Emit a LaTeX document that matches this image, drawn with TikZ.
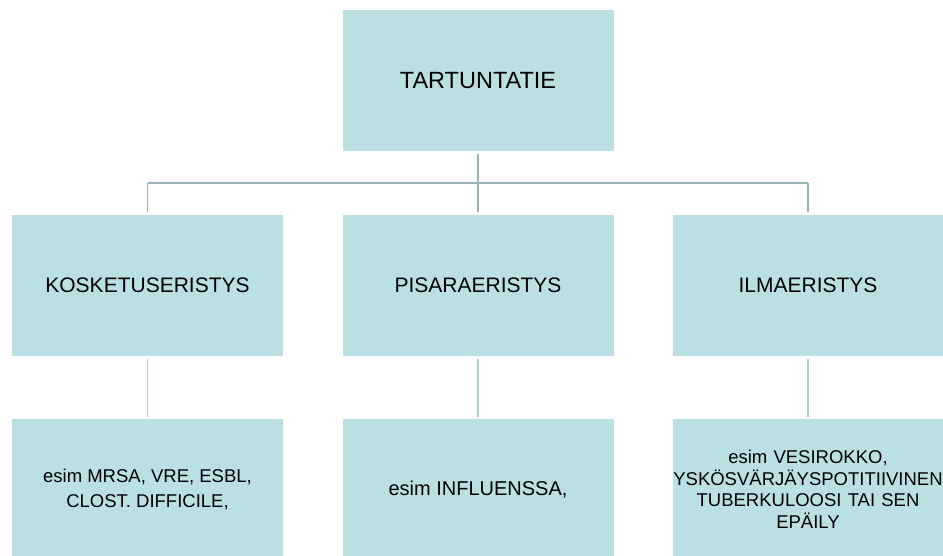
\documentclass[tikz,border=0pt]{standalone}
\usepackage{fontspec}
\setmainfont{Liberation Sans}
\definecolor{boxfill}{HTML}{BBE0E3}
\definecolor{trunkline}{HTML}{96B4B8}
\definecolor{stemline}{HTML}{A8D0D5}
\begin{document}
\begin{tikzpicture}[x=1pt, y=-1pt,
    main/.style = {fill=boxfill, minimum width=271pt, minimum height=141pt, inner sep=0pt, align=center},
    trunk/.style = {draw=trunkline, line width=1.8pt},
    stem/.style = {draw=stemline, line width=1.8pt}]
    \useasboundingbox (0,0) rectangle (943,556);
    \node[main, font=\fontsize{23.5}{28}\selectfont] (top) at (478,80.5) {TARTUNTATIE};
    \node[main, font=\fontsize{21}{25}\selectfont] (kosk) at (147.5,285.5) {KOSKETUSERISTYS};
    \node[main, font=\fontsize{21}{25}\selectfont] (pisa) at (478,285.5) {PISARAERISTYS};
    \node[main, font=\fontsize{21}{25}\selectfont] (ilma) at (808,285.5) {ILMAERISTYS};
    \node[main, font=\fontsize{18.5}{25}\selectfont] (kosk-ex) at (147.5,489.5) {esim MRSA, VRE, ESBL,\\CLOST. DIFFICILE,};
    \node[main, font=\fontsize{20}{25}\selectfont] (pisa-ex) at (478,489.5) {esim INFLUENSSA,};
    \node[main, text width=271pt, font=\fontsize{18.5}{21.5}\selectfont] (ilma-ex) at (808,489.5) {esim VESIROKKO,\\YSKÖSVÄRJÄYSPOTITIIVINEN\\TUBERKULOOSI TAI SEN\\EPÄILY};
    \coordinate (bus) at (478,183);
    \draw[trunk, shorten <=3pt] (top.south) -- (bus);
    \draw[trunk] (kosk.north |- bus) -- (ilma.north |- bus);
    \foreach \n in {kosk,pisa,ilma}
        \draw[trunk, shorten >=3pt] (bus -| \n.north) -- (\n.north);
    \foreach \n in {kosk,pisa,ilma}
        \draw[stem, shorten <=3pt, shorten >=2pt] (\n.south) -- (\n-ex.north);
\end{tikzpicture}
\end{document}
